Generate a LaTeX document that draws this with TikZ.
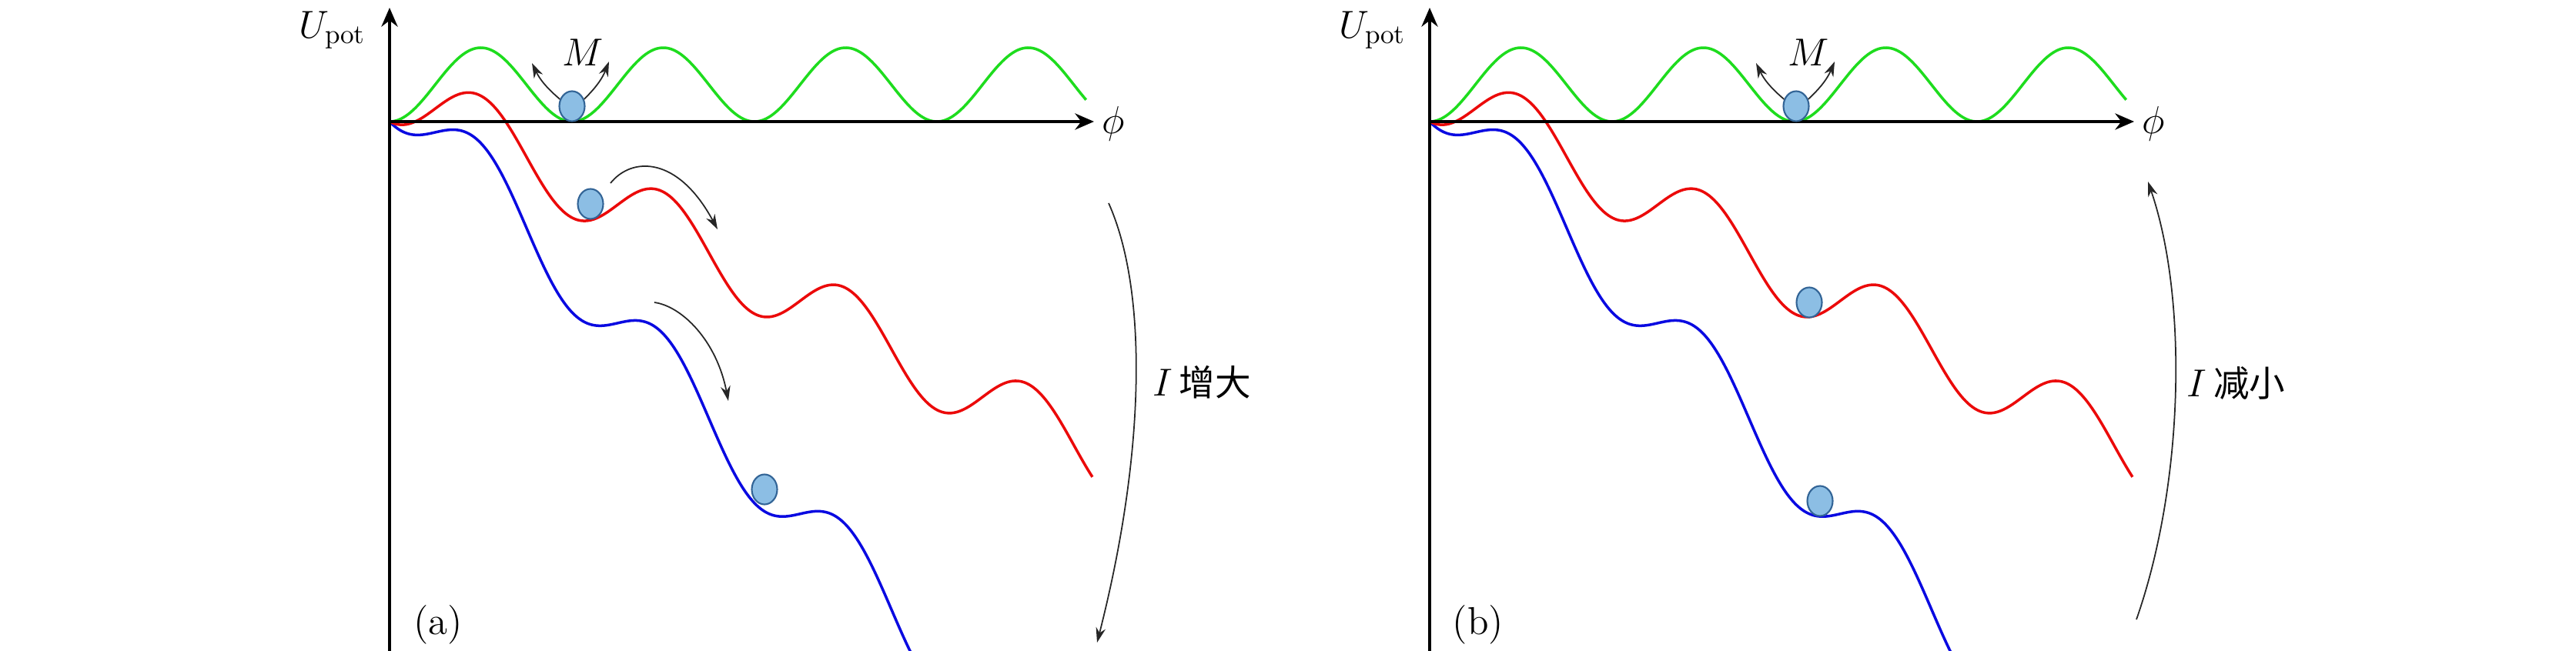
\documentclass[tikz,border=0pt]{standalone}
\usepackage{fontspec}
\newfontfamily\cjk[Scale=0.92]{Noto Sans CJK SC}
\usepackage{tikz}
\usetikzlibrary{shapes.geometric, arrows.meta}
\definecolor{ballfill}{RGB}{140,190,228}
\definecolor{balledge}{RGB}{50,100,150}
\definecolor{potgreen}{RGB}{30,220,30}
\definecolor{potred}{RGB}{235,10,10}
\definecolor{potblue}{RGB}{10,10,225}
\tikzstyle{axis} = [line width=1.1pt, -{Stealth[length=7pt, width=6pt]}]
\tikzstyle{curve} = [line width=1pt, samples=300]
\tikzstyle{ball} = [ellipse, minimum width=0.33cm, minimum height=0.39cm, inner sep=0pt, fill=ballfill, draw=balledge, line width=0.6pt]
\tikzstyle{arrow} = [line width=0.5pt, black!85, -{Stealth[length=5.5pt, width=3.6pt]}]
\tikzstyle{lab} = [inner sep=0pt, font=\Large]

% tilted washboard, axes and labels of one panel
\newcommand{\washboard}{%
  \draw [curve, potgreen] plot[domain=0:9.05] (\x, {0.48*(1-cos(151.9*\x))});
  \draw [curve, potblue] plot[domain=0:6.84] (\x, {0.48*(1-cos(151.9*\x))-1.046*\x});
  \draw [curve, potred] plot[domain=0:9.13] (\x, {0.48*(1-cos(151.9*\x))-0.527*\x});
  \draw [axis] (0,-6.88) -- (0,1.48);
  \draw [axis] (0,0) -- (9.15,0);
  \node (ulab) [lab] at (-0.74,1.19) {$U_{\mathrm{pot}}$};
  \node (philab) [lab] at (9.40,-0.03) {$\phi$};
}

\begin{document}
\begin{tikzpicture}
\useasboundingbox (0,0) rectangle (33.46,-8.46);

% (a) current increasing
\begin{scope}[shift={(5.06,-1.58)}]
  \washboard
  % Nodes
  \node (gball) [ball] at (2.37,0.20) {};
  \node (rball) [ball] at (2.61,-1.07) {};
  \node (bball) [ball] at (4.87,-4.78) {};
  \node (mlab) [lab] at (2.51,0.90) {$M$};
  \node (tag) [lab] at (0.63,-6.54) {(a)};
  \node (ilab) [lab, anchor=west] at (9.91,-3.39) {$I$\,{\cjk 增大}};
  \coordinate (mleft) at (1.85,0.76);
  \coordinate (mright) at (2.85,0.78);
  \coordinate (rs) at (2.87,-0.80);
  \coordinate (re) at (4.26,-1.40);
  \coordinate (bs) at (3.44,-2.35);
  \coordinate (be) at (4.40,-3.63);
  \coordinate (is) at (9.34,-1.06);
  \coordinate (ie) at (9.19,-6.77);
  % Arrows
  \draw [arrow] (gball.150) to[bend left=12] (mleft);
  \draw [arrow] (gball.30) to[bend right=12] (mright);
  \draw [arrow] (rs) .. controls (3.15,-0.45) and (3.75,-0.45) .. (re);
  \draw [arrow] (bs) .. controls (3.80,-2.40) and (4.25,-2.85) .. (be);
  \draw [arrow] (is) .. controls (9.85,-2.2) and (9.82,-4.3) .. (ie);
\end{scope}

% (b) current decreasing
\begin{scope}[shift={(18.57,-1.58)}]
  \washboard
  % Nodes
  \node (gball) [ball] at (4.76,0.20) {};
  \node (rball) [ball] at (4.93,-2.35) {};
  \node (bball) [ball] at (5.07,-4.93) {};
  \node (mlab) [lab] at (4.92,0.90) {$M$};
  \node (tag) [lab] at (0.63,-6.54) {(b)};
  \node (ilab) [lab, anchor=west] at (9.83,-3.40) {$I$\,{\cjk 减小}};
  \coordinate (mleft) at (4.24,0.76);
  \coordinate (mright) at (5.26,0.78);
  \coordinate (is) at (9.18,-6.47);
  \coordinate (ie) at (9.33,-0.78);
  % Arrows
  \draw [arrow] (gball.150) to[bend left=12] (mleft);
  \draw [arrow] (gball.30) to[bend right=12] (mright);
  \draw [arrow] (is) .. controls (9.80,-4.7) and (9.85,-2.3) .. (ie);
\end{scope}

\end{tikzpicture}
\end{document}
